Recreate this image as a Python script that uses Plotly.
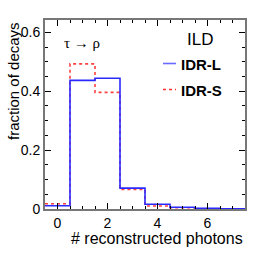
import plotly.graph_objects as go

# bin centres (number of reconstructed photons)
n_photons = [0, 1, 2, 3, 4, 5, 6, 7]
idr_l = [0.011, 0.437, 0.444, 0.071, 0.016, 0.006, 0.002, 0.001]
idr_s = [0.018, 0.493, 0.396, 0.066, 0.010, 0.004, 0.001, 0.0005]

x_ticks = [0, 2, 4, 6]
y_ticks = [0, 0.2, 0.4, 0.6]
y_tick_text = ["0", "0.2", "0.4", "0.6"]


def step(centres, vals):
    edges = [c - 0.5 for c in centres] + [centres[-1] + 0.5]
    return edges, list(vals) + [vals[-1]]


fig = go.Figure()
xs, ys = step(n_photons, idr_s)
fig.add_trace(go.Scatter(x=xs, y=ys, mode="lines", line_shape="hv",
                         line=dict(color="#ff4040", width=1.6, dash="dot"),
                         showlegend=False, hoverinfo="skip"))
xl, yl = step(n_photons, idr_l)
fig.add_trace(go.Scatter(x=xl, y=yl, mode="lines", line_shape="hv",
                         line=dict(color="#2a2aff", width=1.6),
                         showlegend=False, hoverinfo="skip"))

FONT = "Liberation Sans, Arial, sans-serif"
L, R, T, B = 45, 21, 20, 47
W, H = 266, 256
pw, ph = W - L - R, H - T - B


def px(x):
    return (x - L) / pw


def py(y):
    return (H - B - y) / ph


fig.update_layout(
    width=W, height=H,
    margin=dict(l=L, r=R, t=T, b=B, pad=0),
    paper_bgcolor="white", plot_bgcolor="white",
    font=dict(family=FONT, size=13, color="black"),
    xaxis=dict(range=[-0.5, 7.5], tickvals=x_ticks, ticks="inside", ticklen=6,
               tickwidth=1, tickcolor="black", showline=True, linecolor="#777",
               linewidth=2, mirror="allticks", showgrid=False, zeroline=False,
               tickfont=dict(size=14),
               minor=dict(dtick=0.5, tick0=0, ticks="inside", ticklen=3,
                          tickcolor="black", showgrid=False)),
    yaxis=dict(range=[0, 0.642], tickvals=y_ticks, ticktext=y_tick_text,
               ticks="inside", ticklen=6, tickwidth=1, tickcolor="black",
               showline=True, linecolor="#777", linewidth=2, mirror="allticks",
               showgrid=False, zeroline=False, tickfont=dict(size=14),
               minor=dict(dtick=0.05, tick0=0, ticks="inside", ticklen=3,
                          tickcolor="black", showgrid=False)),
    annotations=[
        dict(text="fraction of decays", textangle=-90, xref="paper",
             yref="paper", x=px(13), y=1.0, xanchor="center", yanchor="top",
             showarrow=False, font=dict(size=15)),
        dict(text="# reconstructed photons", xref="paper", yref="paper",
             x=px(245), y=py(239), xanchor="right", yanchor="middle",
             showarrow=False, font=dict(size=16)),
        dict(text="τ → ρ", xref="paper", yref="paper", x=px(62), y=py(43),
             xanchor="left", yanchor="middle", showarrow=False,
             font=dict(size=15, family="Liberation Serif, serif")),
        dict(text="ILD", xref="paper", yref="paper", x=px(200), y=py(39),
             xanchor="center", yanchor="middle", showarrow=False,
             font=dict(size=17)),
        dict(text="<b>IDR-L</b>", xref="paper", yref="paper", x=px(179),
             y=py(64), xanchor="left", yanchor="middle", showarrow=False,
             font=dict(size=15)),
        dict(text="<b>IDR-S</b>", xref="paper", yref="paper", x=px(179),
             y=py(90), xanchor="left", yanchor="middle", showarrow=False,
             font=dict(size=15)),
    ],
    shapes=[
        dict(type="line", xref="paper", yref="paper", x0=px(163), x1=px(176),
             y0=py(63.5), y1=py(63.5), line=dict(color="#6a6aff", width=1.6)),
        dict(type="line", xref="paper", yref="paper", x0=px(163), x1=px(176),
             y0=py(89.5), y1=py(89.5),
             line=dict(color="#ff3030", width=1.5, dash="dot")),
    ],
)

fig.write_html("out.html", config={"displayModeBar": False},
               post_script="document.body.style.margin='0';")
